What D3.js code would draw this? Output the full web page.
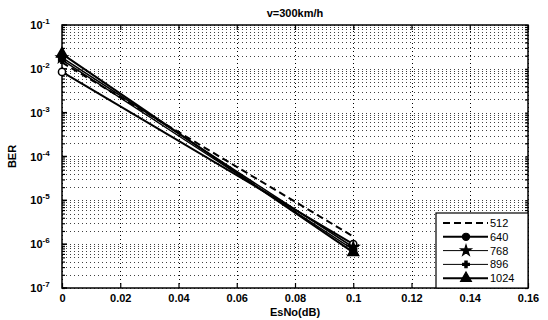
<!DOCTYPE html>
<html>
<head>
<meta charset="utf-8">
<script src="https://cdn.jsdelivr.net/npm/d3@7"></script>
<style>
  body { margin: 0; background: #fff; }
  svg text { font-family: "Liberation Sans", Arial, sans-serif; fill: #000; }
</style>
</head>
<body>
<div id="chart"></div>
<script>
// data
const esno = [0, 0.1];
const series_names = ['512', '640', '768', '896', '1024'];
const ber_512 = [1.4e-2, 1.5e-6];
const ber_640 = [8.5e-3, 1.0e-6];
const ber_768 = [1.8e-2, 8.5e-7];
const ber_896 = [1.6e-2, 7.5e-7];
const ber_1024 = [2.2e-2, 6.5e-7];
const x_ticks = [0, 0.02, 0.04, 0.06, 0.08, 0.1, 0.12, 0.14, 0.16];
const x_tick_labels = ['0', '0.02', '0.04', '0.06', '0.08', '0.1', '0.12', '0.14', '0.16'];
const y_exps = [-1, -2, -3, -4, -5, -6, -7];

const W = 548, H = 320;
const m = {left: 62, right: 20, top: 25, bottom: 32};

let svg = d3.select('#chart').append('svg')
  .attr('width', W).attr('height', H);

let x = d3.scaleLinear().domain([0, 0.16]).range([m.left, W - m.right]);
let y = d3.scaleLog().domain([1e-7, 1e-1]).range([H - m.bottom, m.top]);

let x0 = x.range()[0], x1 = x.range()[1];
let y0 = y.range()[0], y1 = y.range()[1];

// grid - minor log lines
let minor = [];
for (let e = -7; e < -1; e++) {
  for (let k = 1; k <= 9; k++) minor.push(k * Math.pow(10, e));
}
minor.push(1e-1);

let grid = svg.append('g')
  .attr('stroke', '#000').attr('stroke-width', 1)
  .attr('stroke-dasharray', '1,3');

grid.selectAll('line.h').data(minor).enter().append('line')
  .attr('class', 'h')
  .attr('x1', x0).attr('x2', x1)
  .attr('y1', d => Math.round(y(d)) + 0.5).attr('y2', d => Math.round(y(d)) + 0.5)
  .attr('stroke-opacity', 0.75);

grid.selectAll('line.v').data(x_ticks).enter().append('line')
  .attr('class', 'v')
  .attr('y1', y0).attr('y2', y1)
  .attr('x1', d => Math.round(x(d)) + 0.5).attr('x2', d => Math.round(x(d)) + 0.5);

// axes box
svg.append('rect')
  .attr('x', x0).attr('y', y1)
  .attr('width', x1 - x0).attr('height', y0 - y1)
  .attr('fill', 'none').attr('stroke', '#000').attr('stroke-width', 1.5);

// ticks (inside, bottom + top)
let xb = d3.axisBottom(x).tickValues(x_ticks).tickSize(-5).tickFormat((d, i) => x_tick_labels[i]);
let xt = d3.axisTop(x).tickValues(x_ticks).tickSize(-5).tickFormat('');
let yl = d3.axisLeft(y).tickValues(minor).tickSize(-3).tickFormat('');
let yr = d3.axisRight(y).tickValues(minor).tickSize(-3).tickFormat('');

function styleAxis(g) {
  g.select('.domain').remove();
  g.selectAll('.tick line').attr('stroke', '#000').attr('stroke-width', 1.2);
}

let gxb = svg.append('g').attr('transform', `translate(0,${y0})`).call(xb).call(styleAxis);
gxb.selectAll('.tick text')
  .attr('dy', 0).attr('y', 14)
  .style('font-size', '11px').style('font-weight', 'bold')
  .style('font-family', '"Liberation Sans", Arial, sans-serif');
svg.append('g').attr('transform', `translate(0,${y1})`).call(xt).call(styleAxis);
svg.append('g').attr('transform', `translate(${x0},0)`).call(yl).call(styleAxis);
svg.append('g').attr('transform', `translate(${x1},0)`).call(yr).call(styleAxis);

// major y tick longer
svg.selectAll('line.ymaj').data(y_exps).enter().append('line')
  .attr('x1', x0).attr('x2', x0 + 5)
  .attr('y1', d => y(Math.pow(10, d))).attr('y2', d => y(Math.pow(10, d)))
  .attr('stroke', '#000').attr('stroke-width', 1.5);

// y tick labels 10^n
let ylab = svg.append('g');
y_exps.forEach(e => {
  let t = ylab.append('text')
    .attr('x', x0 - 22).attr('y', y(Math.pow(10, e)) + 4)
    .attr('text-anchor', 'middle')
    .style('font-size', '11px').style('font-weight', 'bold');
  t.append('tspan').text('10');
  t.append('tspan').attr('dy', -5).style('font-size', '8px').text(e);
});

// labels
svg.append('text')
  .attr('x', (x0 + x1) / 2).attr('y', 17)
  .attr('text-anchor', 'middle')
  .style('font-size', '11px').style('font-weight', 'bold')
  .text('v=300km/h');

svg.append('text')
  .attr('x', (x0 + x1) / 2).attr('y', H - 4)
  .attr('text-anchor', 'middle')
  .style('font-size', '11px').style('font-weight', 'bold')
  .text('EsNo(dB)');

svg.append('text')
  .attr('transform', `translate(16,${(y0 + y1) / 2}) rotate(-90)`)
  .attr('text-anchor', 'middle')
  .style('font-size', '11px').style('font-weight', 'bold')
  .text('BER');

// series
const all_series = [ber_512, ber_640, ber_768, ber_896, ber_1024];
const dashes = ['7,4', null, null, null, null];
const widths = [2, 2, 1.6, 1.4, 2];
const markers = [null, d3.symbolCircle, d3.symbolStar, d3.symbolCross, d3.symbolTriangle];
const msize = [0, 40, 35, 25, 50];

let line = d3.line().x((d, i) => x(esno[i])).y(d => y(d));

let plot = svg.append('g');
all_series.forEach((s, k) => {
  plot.append('path')
    .datum(s)
    .attr('d', line)
    .attr('fill', 'none')
    .attr('stroke', '#000')
    .attr('stroke-width', widths[k])
    .attr('stroke-dasharray', dashes[k]);

  if (markers[k]) {
    let sym = d3.symbol().type(markers[k]).size(msize[k]);
    plot.selectAll(null).data(s).enter().append('path')
      .attr('d', sym)
      .attr('transform', (d, i) => `translate(${x(esno[i])},${y(d)})`)
      .attr('fill', k == 1 ? '#fff' : '#000')
      .attr('stroke', '#000').attr('stroke-width', 1.5);
  }
});

// legend
let lg = {x: 436, y: 213, w: x1 - 436, h: y0 - 213};
let leg = svg.append('g');
leg.append('rect')
  .attr('x', lg.x).attr('y', lg.y)
  .attr('width', lg.w).attr('height', lg.h)
  .attr('fill', '#fff').attr('stroke', '#000').attr('stroke-width', 1.2);

series_names.forEach((name, k) => {
  let ly = lg.y + 10 + k * 13.8;
  leg.append('line')
    .attr('x1', lg.x + 7).attr('x2', lg.x + 52)
    .attr('y1', ly).attr('y2', ly)
    .attr('stroke', '#000').attr('stroke-width', k == 2 || k == 3 ? 1 : 2)
    .attr('stroke-dasharray', dashes[k]);
  if (markers[k]) {
    leg.append('path')
      .attr('d', d3.symbol().type(markers[k]).size(msize[k]))
      .attr('transform', `translate(${lg.x + 30},${ly})`)
      .attr('fill', '#000').attr('stroke', '#000').attr('stroke-width', 1.2);
  }
  leg.append('text')
    .attr('x', lg.x + 54).attr('y', ly + 4)
    .style('font-size', '11px')
    .text(name);
});
</script>
</body>
</html>
